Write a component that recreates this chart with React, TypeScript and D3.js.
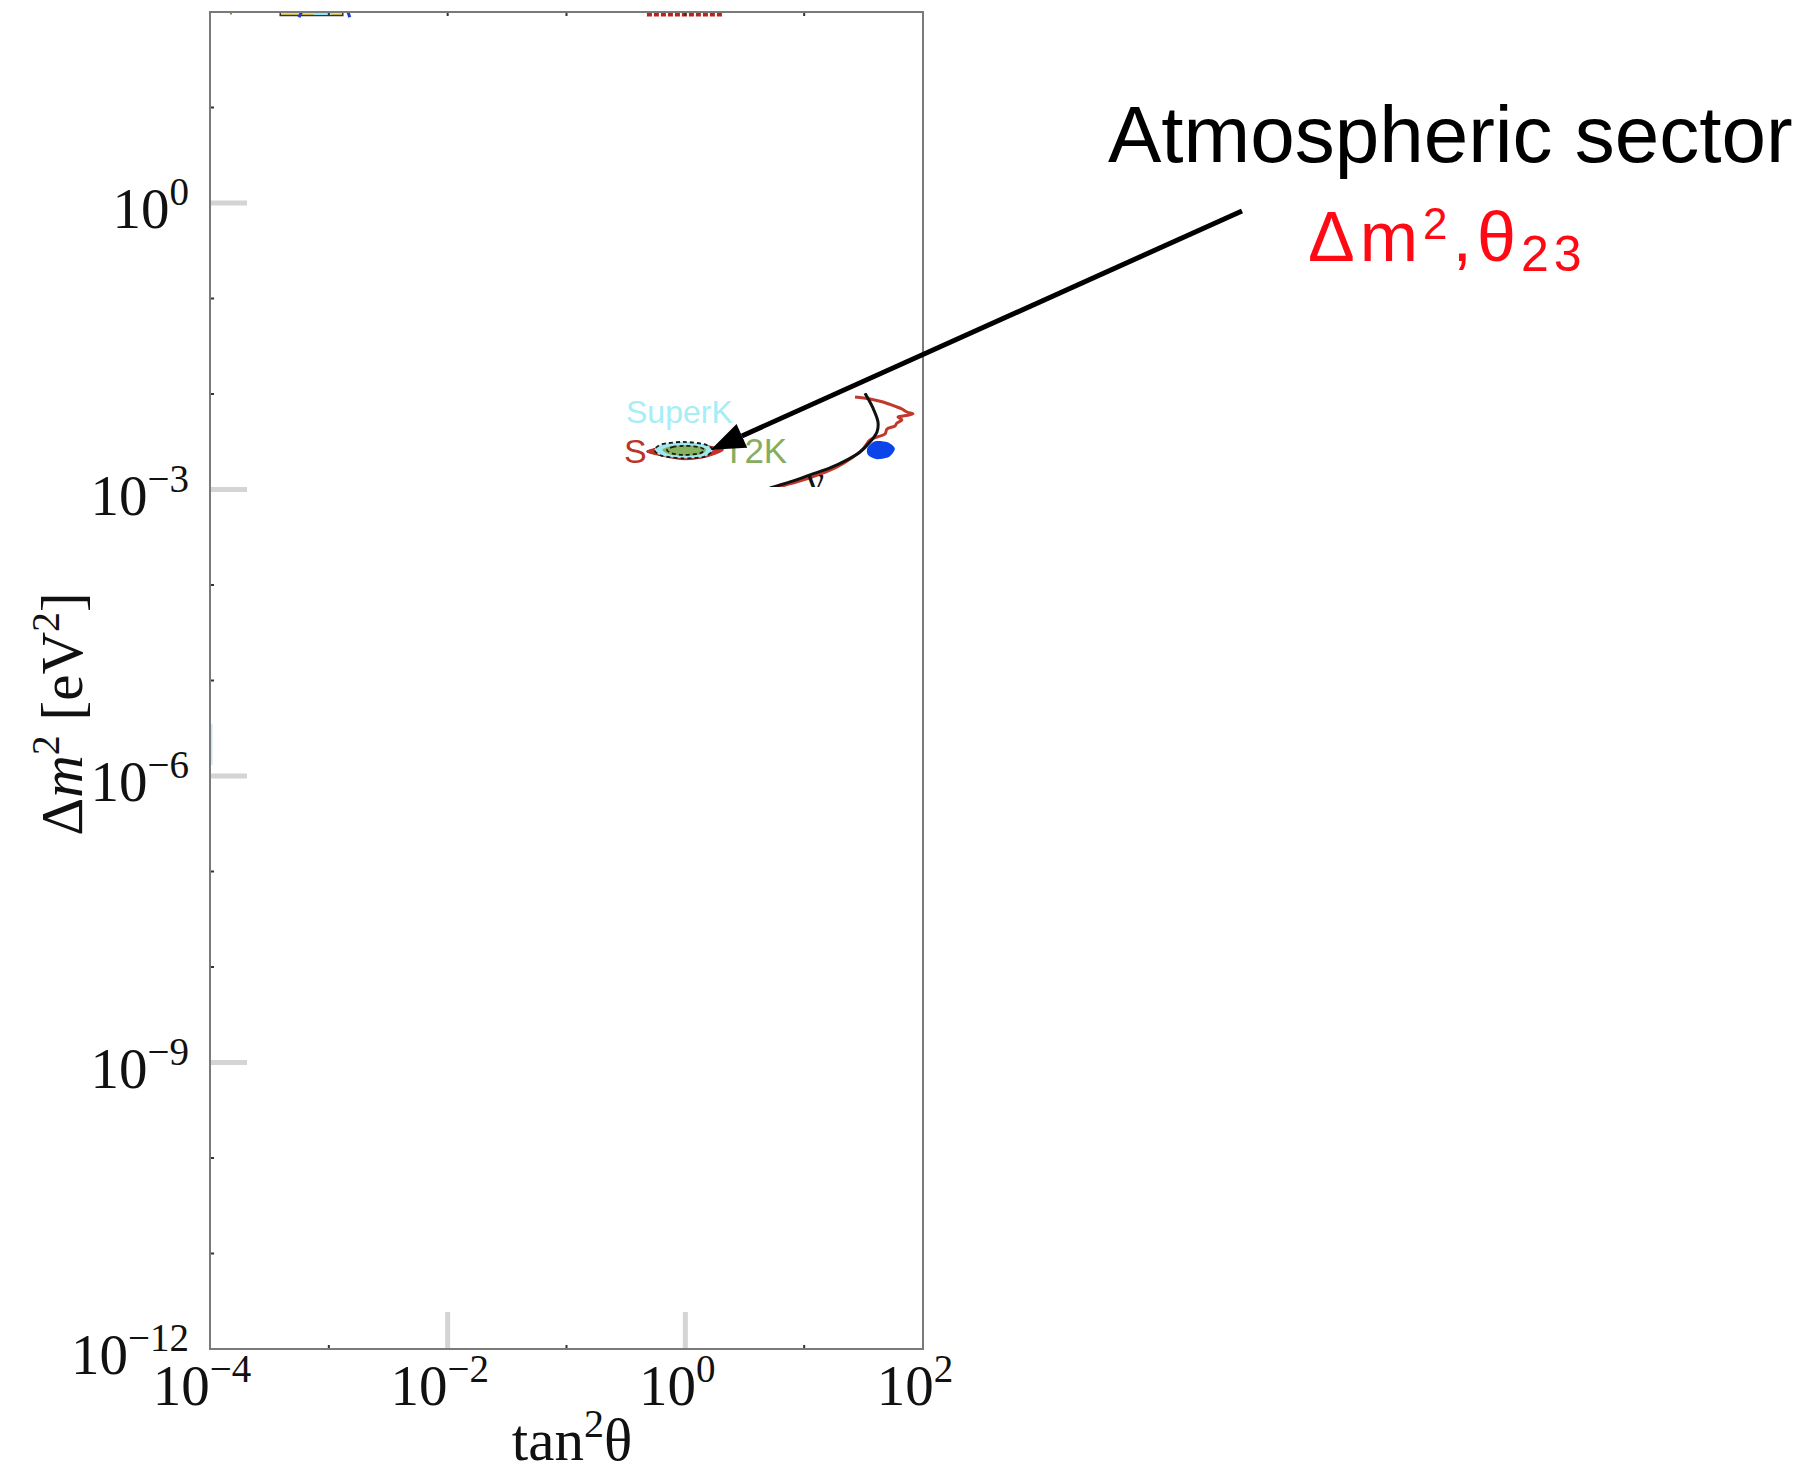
import * as d3 from 'd3';

// axis decades (exponents of 10)
const xLabelExps = [-4, -2, 0, 2];
const yLabelExps = [0, -3, -6, -9, -12];
const xGrayTickExps = [-2, 0];
const yGrayTickExps = [0, -3, -6, -9];
const xBottomMinorExps = [-3, -1, 1];
const xTopMinorExps = [-3, -2, -1, 0, 1];
const yMinorExps = [1, -1, -2, -4, -5, -7, -8, -10, -11];

// allowed regions, [tan^2 theta, dm^2 (eV^2)]
const redLens = [
  [0.47, 2.5e-3], [0.68, 2.85e-3], [0.99, 3.05e-3], [1.47, 2.9e-3],
  [2.1, 2.6e-3], [1.49, 2.18e-3], [0.99, 2.05e-3], [0.68, 2.2e-3],
];
const superKRegion = [
  [0.55, 2.59e-3], [0.637, 2.98e-3], [0.955, 3.15e-3], [1.437, 2.98e-3],
  [1.7, 2.59e-3], [1.437, 2.2e-3], [0.955, 2.12e-3], [0.637, 2.25e-3],
];
const t2kRegion = [
  [0.64, 2.59e-3], [0.743, 2.82e-3], [0.975, 2.9e-3], [1.33, 2.82e-3],
  [1.5, 2.59e-3], [1.33, 2.32e-3], [0.975, 2.25e-3], [0.743, 2.32e-3],
];
const innerDashed = [
  [0.7, 2.59e-3], [0.78, 2.78e-3], [0.975, 2.86e-3], [1.3, 2.78e-3],
  [1.45, 2.59e-3], [1.3, 2.38e-3], [0.975, 2.3e-3], [0.78, 2.38e-3],
];
const redJagged = [
  [26.8, 9.77e-3], [35.8, 9.31e-3], [46.1, 8.65e-3], [60.4, 7.67e-3],
  [66.5, 7.31e-3], [73.4, 6.8e-3], [82.4, 6.48e-3], [67.9, 6.18e-3],
  [61.6, 6.03e-3], [66.5, 5.61e-3], [60.4, 5.21e-3], [58.1, 4.85e-3],
  [49.8, 4.51e-3], [47.9, 4.0e-3], [41.0, 3.72e-3], [35.8, 3.46e-3],
  [31.3, 2.79e-3], [25.8, 2.3e-3], [18.9, 1.81e-3], [13.6, 1.52e-3],
  [8.71, 1.26e-3], [5.9, 1.11e-3], [4.25, 9.9e-4],
];
const blackCurve = [
  [32.5, 1.02e-2], [37.9, 7.14e-3], [41.8, 5.09e-3], [41.0, 4.0e-3],
  [35.8, 3.14e-3], [29.5, 2.47e-3], [23.0, 2.04e-3], [16.5, 1.68e-3],
  [11.2, 1.42e-3], [7.6, 1.2e-3], [5.16, 1.04e-3],
];
const blueBlob = [
  [34.0, 2.72e-3], [39.5, 3.2e-3], [50.5, 3.12e-3], [58.0, 2.68e-3],
  [52.0, 2.2e-3], [41.0, 2.08e-3], [34.5, 2.3e-3],
];

// bits of other contours clipped at the top edge
const yellowTop = [[3.9e-4, 100], [1.31e-3, 100], [1.31e-3, 92], [3.9e-4, 92]];
const cyanTop = [[7.5e-4, 100], [1.05e-3, 100], [1.05e-3, 93], [7.5e-4, 93]];
const redDashedTop = [[0.475, 94], [2.04, 94]];
const blueMarksTop = [[5.9e-4, 100], [5.6e-4, 88]];
const blueMarksTop2 = [[1.45e-3, 100], [1.5e-3, 88]];
const greenMarksTop = [[1.5e-4, 100], [1.5e-4, 94]];
const lightBlueLeft = [[1.02e-4, 3.5e-6], [1.02e-4, 1.3e-6]];

const arrowTip = [1.64, 2.6e-3];

const W = 1820;
const H = 1472;
const SERIF = "'Liberation Serif', 'Times New Roman', serif";
const SANS = "'Liberation Sans', Arial, Helvetica, sans-serif";

export default function App() {
  const x = d3.scaleLog().domain([1e-4, 1e2]).range([210, 923]);
  const y = d3.scaleLog().domain([1e-12, 1e2]).range([1349, 12]);
  const [x0, x1] = x.range();
  const [y0, y1] = y.range();

  const closed = d3.line<number[]>()
    .x(d => x(d[0]))
    .y(d => y(d[1]))
    .curve(d3.curveCardinalClosed.tension(0.2));
  const open = d3.line<number[]>()
    .x(d => x(d[0]))
    .y(d => y(d[1]))
    .curve(d3.curveCatmullRom.alpha(0.5));
  const straight = d3.line<number[]>()
    .x(d => x(d[0]))
    .y(d => y(d[1]));
  const box = d3.line<number[]>()
    .x(d => x(d[0]))
    .y(d => y(d[1]))
    .curve(d3.curveLinearClosed);

  // arrow geometry
  const ax0 = 1242, ay0 = 211;
  const tx = x(arrowTip[0]), ty = y(arrowTip[1]);
  const ang = Math.atan2(ty - ay0, tx - ax0);
  const headLen = 34, headHalf = 13;
  const bx = tx - headLen * Math.cos(ang), by = ty - headLen * Math.sin(ang);
  const nx = -Math.sin(ang), ny = Math.cos(ang);
  const head = `M${tx},${ty}L${bx + nx * headHalf},${by + ny * headHalf}L${bx - nx * headHalf},${by - ny * headHalf}Z`;

  const pow = (e: number) => (e < 0 ? `\u2212${-e}` : `${e}`);

  return (
    <svg width={W} height={H} style={{ position: 'absolute', left: 0, top: 0, background: '#fff' }}>
      <defs>
        <clipPath id="plot">
          <rect x={x0} y={y1} width={x1 - x0} height={y0 - y1} />
        </clipPath>
        <clipPath id="patch">
          <rect x={620} y={393} width={298} height={94} />
        </clipPath>
      </defs>
      <rect width={W} height={H} fill="#fff" />

      {/* clipped fragments near the top edge */}
      <g clipPath="url(#plot)">
        <path d={box(yellowTop) || ''} fill="#f4e04a" stroke="#333" strokeWidth={1.5} />
        <path d={box(cyanTop) || ''} fill="#8fe7f2" />
        <path d={straight(redDashedTop) || ''} stroke="#b8241c" strokeWidth={4} strokeDasharray="5,2" fill="none" />
        <path d={straight(blueMarksTop) || ''} stroke="#1d3fd8" strokeWidth={3} fill="none" />
        <path d={straight(blueMarksTop2) || ''} stroke="#1d3fd8" strokeWidth={3} fill="none" />
        <path d={straight(greenMarksTop) || ''} stroke="#6a9a3a" strokeWidth={2} fill="none" />
        <path d={straight(lightBlueLeft) || ''} stroke="#cfe6f4" strokeWidth={3} fill="none" />
      </g>

      {/* gray major ticks */}
      {yGrayTickExps.map(e => (
        <line key={'yg' + e} x1={x0 + 1} x2={x0 + 37} y1={y(10 ** e)} y2={y(10 ** e)} stroke="#d4d4d4" strokeWidth={5} />
      ))}
      {xGrayTickExps.map(e => (
        <line key={'xg' + e} x1={x(10 ** e)} x2={x(10 ** e)} y1={y0 - 1} y2={y0 - 37} stroke="#d4d4d4" strokeWidth={5} />
      ))}
      {/* small decade ticks */}
      {yMinorExps.map(e => (
        <line key={'ym' + e} x1={x0} x2={x0 + 4} y1={y(10 ** e)} y2={y(10 ** e)} stroke="#333" strokeWidth={2} />
      ))}
      {xBottomMinorExps.map(e => (
        <line key={'xb' + e} x1={x(10 ** e)} x2={x(10 ** e)} y1={y0} y2={y0 - 4} stroke="#333" strokeWidth={2} />
      ))}
      {xTopMinorExps.map(e => (
        <line key={'xt' + e} x1={x(10 ** e)} x2={x(10 ** e)} y1={y1} y2={y1 + 4} stroke="#333" strokeWidth={2} />
      ))}

      {/* frame */}
      <rect x={x0} y={y1} width={x1 - x0} height={y0 - y1} fill="none" stroke="#7a7a7a" strokeWidth={2} />

      {/* tick labels */}
      {yLabelExps.map(e => (
        <text key={'yl' + e} x={189} y={y(10 ** e) + 25} textAnchor="end" fontFamily={SERIF} fontSize={57} fill="#111">
          10<tspan dy={-23} fontSize={39}>{pow(e)}</tspan>
        </text>
      ))}
      {xLabelExps.map(e => (
        <text key={'xl' + e} x={x(10 ** e) - 8} y={1405} textAnchor="middle" fontFamily={SERIF} fontSize={57} fill="#111">
          10<tspan dy={-23} fontSize={39}>{pow(e)}</tspan>
        </text>
      ))}

      {/* axis titles */}
      <text x={572} y={1460} textAnchor="middle" fontFamily={SERIF} fontSize={59} fill="#111">
        tan<tspan dy={-23} fontSize={40}>2</tspan><tspan dy={23}>θ</tspan>
      </text>
      <text transform="translate(82,714) rotate(-90)" textAnchor="middle" fontFamily={SERIF} fontSize={59} fill="#111">
        Δ<tspan fontStyle="italic">m</tspan><tspan dy={-23} fontSize={40}>2</tspan><tspan dy={23}> [eV</tspan><tspan dy={-23} fontSize={40}>2</tspan><tspan dy={23}>]</tspan>
      </text>

      {/* atmospheric sector inset */}
      <rect x={620} y={393} width={298} height={94} fill="#fff" />
      <g clipPath="url(#patch)">
        <path d={closed(redLens) || ''} fill="#c4322a" stroke="#b02a22" strokeWidth={1} />
        <path d={closed(superKRegion) || ''} fill="#9fe9f2" />
        <path d={closed(t2kRegion) || ''} fill="#88b35e" />
        <path d={closed(superKRegion) || ''} fill="none" stroke="#1a1a1a" strokeWidth={1.8} strokeDasharray="4,3" />
        <path d={closed(innerDashed) || ''} fill="none" stroke="#1a1a1a" strokeWidth={1.8} strokeDasharray="4,3" />
        <path d={open(redJagged) || ''} fill="none" stroke="#c0392b" strokeWidth={3} transform="translate(0,2)" />
        <path d={open(blackCurve) || ''} fill="none" stroke="#111" strokeWidth={3} />
        <path d={closed(blueBlob) || ''} fill="#0a44ea" />
        <text x={806} y={494} fontFamily={SERIF} fontSize={40} fill="#111">ν</text>
        <text x={626} y={423} fontFamily={SANS} fontSize={32} fill="#a6eef6">SuperK</text>
        <text x={624} y={463} fontFamily={SANS} fontSize={34} fill="#b8352a">S</text>
        <text x={723} y={463} fontFamily={SANS} fontSize={35} fill="#86ad5e">T2K</text>
      </g>

      {/* arrow */}
      <line x1={ax0} y1={ay0} x2={bx} y2={by} stroke="#000" strokeWidth={5} />
      <path d={head} fill="#000" />

      <text x={1108} y={162} fontFamily={SANS} fontSize={80} fill="#000">Atmospheric sector</text>
      <text x={1308} y={261} fontFamily={SANS} fontSize={70} fill="#ff0a14" letterSpacing={5}>
        Δm<tspan dy={-22} fontSize={44}>2</tspan><tspan dy={22}>,θ</tspan><tspan dy={10} fontSize={50}>23</tspan>
      </text>
    </svg>
  );
}
